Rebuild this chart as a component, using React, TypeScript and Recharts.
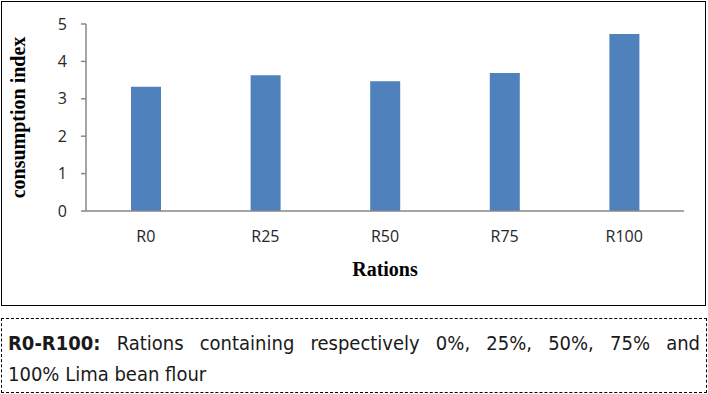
import { Bar, BarChart, XAxis, YAxis } from "recharts";

const rations = ["R0", "R25", "R50", "R75", "R100"];
const consumptionIndex = [3.32, 3.63, 3.47, 3.69, 4.73];
const yTicks = [0, 1, 2, 3, 4, 5];

const data = rations.map((r, i) => ({ ration: r, value: consumptionIndex[i] }));

const axisColor = "#878787";
const tickStyle = { fill: "#262626", fontSize: 16, fontFamily: "'Open Sans'" };
const serifBold = {
  fontFamily: "'Liberation Serif', 'Times New Roman', serif",
  fontWeight: 700,
  fontSize: 20,
  fill: "#000",
};

export default function App() {
  return (
    <div style={{ position: "absolute", left: 0, top: 0, width: 708, height: 394, background: "#fff" }}>
      {/* chart frame */}
      <div
        style={{
          position: "absolute",
          left: 1,
          top: 1,
          width: 703,
          height: 303,
          border: "1.5px solid #000",
        }}
      />
      <div style={{ position: "absolute", left: 0, top: 0 }}>
        <BarChart
          width={708}
          height={306}
          data={data}
          margin={{ top: 24, right: 24, bottom: 30, left: 18 }}
        >
          <XAxis
            dataKey="ration"
            height={65}
            stroke={axisColor}
            strokeWidth={1.5}
            tickLine={false}
            tickSize={0}
            tickMargin={20}
            tick={tickStyle}
            label={{ value: "Rations", position: "insideBottom", offset: 0, style: serifBold }}
          />
          <YAxis
            width={68}
            domain={[0, 5]}
            ticks={yTicks}
            stroke={axisColor}
            strokeWidth={1.5}
            tickSize={5}
            tickMargin={14}
            tick={tickStyle}
            label={{
              value: "consumption index",
              angle: -90,
              position: "insideLeft",
              offset: 0,
              style: { ...serifBold, textAnchor: "middle" },
            }}
          />
          <Bar dataKey="value" fill="#4F81BD" barSize={30} isAnimationActive={false} />
        </BarChart>
      </div>
      {/* caption box */}
      <div
        style={{
          position: "absolute",
          left: 1,
          top: 318,
          width: 692,
          height: 64,
          border: "1.5px dashed #000",
          padding: "9px 6px 0 6px",
          fontFamily: "'DejaVu Sans Condensed', 'DejaVu Sans', sans-serif",
          fontStretch: "condensed",
          fontSize: 20,
          lineHeight: "30.5px",
          color: "#1a1a1a",
        }}
      >
        <div style={{ textAlign: "justify", textAlignLast: "justify" }}>
          <b>R0-R100:</b> Rations containing respectively 0%, 25%, 50%, 75% and
        </div>
        <div>100% Lima bean flour</div>
      </div>
    </div>
  );
}
